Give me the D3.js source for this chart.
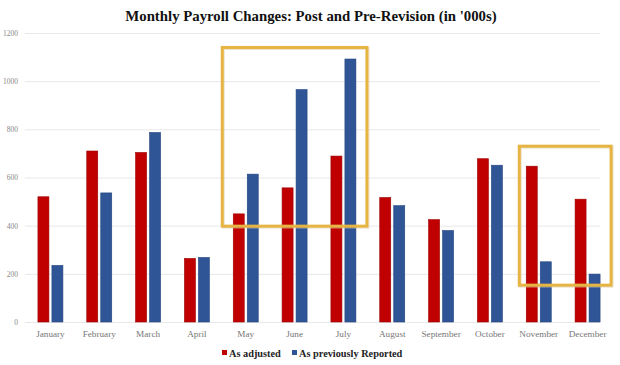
<!DOCTYPE html>
<html><head><meta charset="utf-8">
<script src="https://cdn.jsdelivr.net/npm/d3@7"></script>
<style>body{margin:0;background:#fff}svg{display:block}</style>
</head><body>
<svg id="c" width="620" height="365"></svg>
<script>
const months = ["January","February","March","April","May","June","July","August","September","October","November","December"];
const asAdjusted = [520, 710, 704, 264, 449, 557, 689, 517, 425, 678, 647, 510];
const asPreviouslyReported = [235, 536, 787, 268, 614, 965, 1092, 483, 380, 651, 250, 199];
const yTicks = [0, 200, 400, 600, 800, 1000, 1200];
const seriesNames = ["As adjusted", "As previously Reported"];
const seriesColors = ["#c00000", "#2f5597"];
// highlight boxes: first month, last month, top value, bottom value
const highlightBoxes = [
  {from: "May", to: "July", top: 1140, bottom: 398},
  {from: "November", to: "December", top: 730, bottom: 153}
];

const svg = d3.select("#c");
const x = d3.scaleBand().domain(months).range([26, 612]).paddingInner(0).paddingOuter(0);
const xs = d3.scaleBand().domain([0, 1]).range([x.bandwidth()/2 - 12.5, x.bandwidth()/2 + 12.5]).paddingInner(0.214);
const y = d3.scaleLinear().domain([0, 1200]).range([322, 33]);

svg.append("text").attr("x", 311).attr("y", 21).attr("text-anchor", "middle")
  .attr("font-family", "Liberation Serif, Times New Roman, serif").attr("font-weight", "bold")
  .attr("font-size", 14.8).attr("fill", "#111").text("Monthly Payroll Changes: Post and Pre-Revision (in '000s)");

// grid
const yAxis = d3.axisLeft(y).tickValues(yTicks).tickSize(-(600 - 25)).tickFormat(d3.format("d")).tickPadding(7);
const ga = svg.append("g").attr("transform", "translate(25,0)").call(yAxis);
ga.select(".domain").remove();
ga.selectAll(".tick line").attr("stroke", "#e8e8e8").attr("stroke-width", 1);
ga.selectAll(".tick text").attr("font-family", "Liberation Serif, serif").attr("font-size", 7.5).attr("fill", "#888");

// bars
const data = months.map((m, i) => ({m, v: [asAdjusted[i], asPreviouslyReported[i]]}));
const g = svg.append("g");
data.forEach(d => {
  d.v.forEach((v, k) => {
    g.append("rect")
      .attr("x", x(d.m) + xs(k)).attr("width", xs.bandwidth())
      .attr("y", y(v)).attr("height", y(0) - y(v))
      .attr("fill", seriesColors[k])
      .attr("stroke", k === 0 ? "#9e0000" : "#23457e").attr("stroke-width", 0.6);
  });
});

// x labels
const xAxis = d3.axisBottom(x).tickSize(0).tickPadding(8);
const gx = svg.append("g").attr("transform", `translate(0,${y(0)})`).call(xAxis);
gx.select(".domain").remove();
gx.selectAll(".tick text").attr("font-family", "Liberation Serif, serif").attr("font-size", 9.2).attr("fill", "#777");

// highlight boxes
highlightBoxes.forEach((b, i) => {
  const padL = i === 0 ? 11 : 7;
  const x0 = x(b.from) + xs(0) - padL;
  const x1 = x(b.to) + xs(1) + xs.bandwidth() + 11;
  svg.append("rect").attr("x", x0 + 1).attr("y", y(b.top) + 1).attr("width", x1 - x0).attr("height", y(b.bottom) - y(b.top))
    .attr("fill", "none").attr("stroke", "#d9c7a0").attr("stroke-width", 3).attr("opacity", 0.5);
  svg.append("rect").attr("x", x0).attr("y", y(b.top)).attr("width", x1 - x0).attr("height", y(b.bottom) - y(b.top))
    .attr("fill", "none").attr("stroke", "#e6b443").attr("stroke-width", 3);
});

// legend
const lg = svg.append("g").attr("transform", "translate(222,356.5)");
const lx = [0, 70];
seriesNames.forEach((n, i) => {
  lg.append("rect").attr("x", lx[i]).attr("y", -6.5).attr("width", 5).attr("height", 5).attr("fill", seriesColors[i]);
  lg.append("text").attr("x", lx[i] + 7).attr("y", 0).attr("font-family", "Liberation Serif, serif")
    .attr("font-weight", "bold").attr("font-size", 10.3).attr("fill", "#222").text(n);
});
</script>
</body></html>
